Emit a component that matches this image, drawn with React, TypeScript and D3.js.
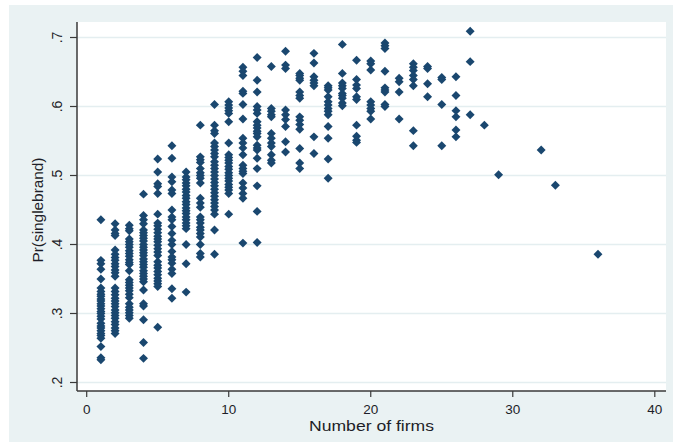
import React from "react";
import * as d3 from "d3";

const firms: number[] = [1, 2, 3, 4, 5, 6, 7, 8, 9, 10, 11, 12, 13, 14, 15, 16, 17, 18, 19, 20, 21, 22, 23, 24, 25, 26, 27, 28, 29, 32, 33, 36];

const probs: number[][] = [
  [0.436, 0.377, 0.372, 0.364, 0.35, 0.337, 0.332, 0.328, 0.325, 0.321, 0.318, 0.314, 0.311, 0.307, 0.303, 0.3, 0.296, 0.292, 0.286, 0.282, 0.279, 0.275, 0.271, 0.268, 0.264, 0.252, 0.236, 0.233],
  [0.43, 0.421, 0.416, 0.413, 0.392, 0.386, 0.381, 0.377, 0.372, 0.368, 0.363, 0.359, 0.354, 0.337, 0.332, 0.327, 0.322, 0.318, 0.314, 0.31, 0.305, 0.301, 0.297, 0.293, 0.288, 0.284, 0.279, 0.275, 0.271],
  [0.428, 0.423, 0.42, 0.408, 0.404, 0.4, 0.396, 0.391, 0.387, 0.383, 0.378, 0.374, 0.371, 0.362, 0.349, 0.345, 0.341, 0.337, 0.333, 0.328, 0.323, 0.314, 0.309, 0.305, 0.301, 0.297, 0.293],
  [0.473, 0.442, 0.436, 0.43, 0.421, 0.417, 0.413, 0.409, 0.405, 0.4, 0.396, 0.392, 0.388, 0.384, 0.379, 0.375, 0.371, 0.367, 0.362, 0.358, 0.354, 0.35, 0.346, 0.334, 0.314, 0.311, 0.291, 0.258, 0.235],
  [0.524, 0.505, 0.488, 0.484, 0.474, 0.444, 0.431, 0.427, 0.422, 0.417, 0.412, 0.408, 0.404, 0.399, 0.394, 0.389, 0.384, 0.375, 0.37, 0.366, 0.361, 0.356, 0.351, 0.347, 0.343, 0.339, 0.28],
  [0.543, 0.525, 0.498, 0.491, 0.479, 0.474, 0.45, 0.44, 0.436, 0.426, 0.416, 0.406, 0.4, 0.39, 0.382, 0.378, 0.373, 0.364, 0.358, 0.336, 0.322],
  [0.505, 0.498, 0.494, 0.489, 0.485, 0.48, 0.476, 0.471, 0.467, 0.462, 0.458, 0.453, 0.449, 0.445, 0.44, 0.436, 0.431, 0.427, 0.423, 0.4, 0.372, 0.331],
  [0.573, 0.527, 0.523, 0.519, 0.51, 0.504, 0.5, 0.496, 0.489, 0.467, 0.46, 0.454, 0.44, 0.436, 0.431, 0.425, 0.421, 0.416, 0.411, 0.4, 0.387, 0.382],
  [0.603, 0.573, 0.565, 0.561, 0.547, 0.542, 0.537, 0.532, 0.527, 0.52, 0.515, 0.51, 0.505, 0.5, 0.495, 0.49, 0.485, 0.48, 0.475, 0.47, 0.465, 0.46, 0.455, 0.45, 0.444, 0.421, 0.386],
  [0.607, 0.602, 0.598, 0.594, 0.59, 0.578, 0.547, 0.53, 0.526, 0.522, 0.518, 0.513, 0.509, 0.504, 0.5, 0.496, 0.492, 0.487, 0.483, 0.479, 0.474, 0.444],
  [0.657, 0.651, 0.645, 0.622, 0.619, 0.603, 0.582, 0.554, 0.547, 0.54, 0.53, 0.515, 0.51, 0.506, 0.503, 0.489, 0.482, 0.474, 0.467, 0.402],
  [0.671, 0.638, 0.621, 0.6, 0.595, 0.59, 0.578, 0.573, 0.569, 0.564, 0.561, 0.556, 0.544, 0.54, 0.537, 0.525, 0.51, 0.485, 0.448, 0.403],
  [0.658, 0.597, 0.593, 0.588, 0.585, 0.561, 0.554, 0.547, 0.542, 0.53, 0.522, 0.518],
  [0.68, 0.66, 0.655, 0.595, 0.588, 0.581, 0.571, 0.549, 0.534],
  [0.648, 0.645, 0.641, 0.638, 0.621, 0.616, 0.612, 0.585, 0.58, 0.574, 0.567, 0.539, 0.518, 0.51],
  [0.677, 0.663, 0.643, 0.638, 0.634, 0.63, 0.556, 0.532],
  [0.63, 0.627, 0.624, 0.614, 0.607, 0.602, 0.597, 0.593, 0.588, 0.571, 0.554, 0.524, 0.496],
  [0.69, 0.648, 0.634, 0.63, 0.626, 0.619, 0.616, 0.612, 0.605, 0.601],
  [0.667, 0.639, 0.631, 0.626, 0.614, 0.61, 0.573, 0.557, 0.551, 0.548],
  [0.666, 0.662, 0.653, 0.607, 0.602, 0.597, 0.593, 0.582],
  [0.692, 0.688, 0.684, 0.651, 0.627, 0.624, 0.621, 0.603, 0.6],
  [0.641, 0.636, 0.621, 0.582],
  [0.662, 0.657, 0.652, 0.645, 0.639, 0.63, 0.565, 0.543],
  [0.658, 0.655, 0.633, 0.614],
  [0.642, 0.639, 0.603, 0.543],
  [0.643, 0.616, 0.594, 0.585, 0.566, 0.556],
  [0.709, 0.665, 0.588],
  [0.573],
  [0.501],
  [0.537],
  [0.486],
  [0.386],
];

const xTicks: number[] = [0, 10, 20, 30, 40];
const yTicks: number[] = [0.2, 0.3, 0.4, 0.5, 0.6, 0.7];
const yTickLabels: string[] = [".2", ".3", ".4", ".5", ".6", ".7"];
const xTitle = "Number of firms";
const yTitle = "Pr(singlebrand)";

export default function App() {
  const W = 673;
  const H = 446;
  const plotL = 77;
  const plotR = 666;
  const plotT = 22;
  const plotB = 391;

  const x = d3.scaleLinear().domain([0, 40]).range([86.7, 654.8]);
  const y = d3.scaleLinear().domain([0.2, 0.7]).range([382.5, 37.5]);

  const marker = d3.symbol().type(d3.symbolSquare).size(40)() as string;

  const points: { fx: number; p: number }[] = [];
  firms.forEach((f, i) => probs[i].forEach((p) => points.push({ fx: f, p })));

  const font = "'Liberation Sans', Arial, Helvetica, sans-serif";
  const textColor = "#1e1e28";
  const bg = "#eaf2f3";
  const grid = "#e4eef0";
  const navy = "#1a476f";

  return (
    <svg
      width={W}
      height={H}
      style={{ position: "absolute", left: 0, top: 0, display: "block" }}
      fontFamily={font}
    >
      <rect x={0} y={0} width={W} height={H} fill="#ffffff" />
      <rect x={9} y={5} width={W - 9} height={437} fill={bg} />
      <rect x={plotL} y={plotT} width={plotR - plotL} height={plotB - plotT} fill="#ffffff" />

      {yTicks.map((t) => (
        <line key={"g" + t} x1={plotL} x2={plotR} y1={y(t)} y2={y(t)} stroke={grid} strokeWidth={1.6} />
      ))}

      {points.map((d, i) => (
        <path
          key={i}
          d={marker}
          transform={`translate(${x(d.fx)},${y(d.p)}) rotate(45)`}
          fill={navy}
        />
      ))}

      <line x1={plotL} x2={plotL} y1={plotT} y2={plotB} stroke="#3a3a3a" strokeWidth={1.5} />
      <line x1={plotL} x2={plotR} y1={plotB} y2={plotB} stroke="#3a3a3a" strokeWidth={1.5} />

      {yTicks.map((t, i) => (
        <g key={"yt" + t}>
          <line x1={plotL - 7} x2={plotL} y1={y(t)} y2={y(t)} stroke="#3a3a3a" strokeWidth={1.2} />
          <text
            transform={`translate(62,${y(t)}) rotate(-90)`}
            textAnchor="middle"
            fontSize={14}
            fill={textColor}
          >
            {yTickLabels[i]}
          </text>
        </g>
      ))}

      {xTicks.map((t) => (
        <g key={"xt" + t}>
          <line x1={x(t)} x2={x(t)} y1={plotB} y2={plotB + 6} stroke="#3a3a3a" strokeWidth={1.2} />
          <text x={x(t)} y={414} textAnchor="middle" fontSize={13.5} fill={textColor}>
            {t}
          </text>
        </g>
      ))}

      <text
        x={371.5}
        y={431}
        textAnchor="middle"
        fontSize={15}
        fill={textColor}
        textLength={125}
        lengthAdjust="spacingAndGlyphs"
      >
        {xTitle}
      </text>
      <text
        transform={`translate(43,210) rotate(-90)`}
        textAnchor="middle"
        fontSize={14.5}
        fill={textColor}
        textLength={105}
        lengthAdjust="spacingAndGlyphs"
      >
        {yTitle}
      </text>
    </svg>
  );
}
